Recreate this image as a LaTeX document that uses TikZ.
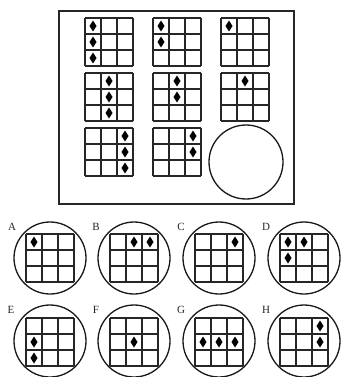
\documentclass[tikz,border=0pt]{standalone}
\usepackage{fontspec}
\setmainfont{Liberation Serif}
\tikzset{
  gridln/.style={line width=1.1pt, draw=black!85, line cap=square},
  frameln/.style={line width=1.5pt, draw=black!85},
  ringln/.style={line width=1.3pt, draw=black!90},
  optlabel/.style={font=\fontsize{11}{13}\selectfont, inner sep=0pt, text=black!85}
}
\newcommand\dgrid[3]{%
  \begin{scope}[shift={(#1,#2)}]
    \foreach \i in {0,16,32,48}{\draw[gridln] (\i,0) -- (\i,48); \draw[gridln] (0,\i) -- (48,\i);}
    \foreach \c/\r in {#3}{\fill[black] (\c*16+8,\r*16+2.5) -- (\c*16+11.5,\r*16+8) -- (\c*16+8,\r*16+13.5) -- (\c*16+4.5,\r*16+8) -- cycle;}
  \end{scope}}
\begin{document}
\begin{tikzpicture}[x=1pt,y=-1pt]
  \useasboundingbox (0,0) rectangle (340,377);
  \fill[white] (0,0) rectangle (340,377);
  % top panel
  \draw[frameln] (59,11) rectangle (294,204);
  \dgrid{85}{18}{0/0,0/1,0/2}
  \dgrid{153}{18}{0/0,0/1}
  \dgrid{221}{18}{0/0}
  \dgrid{85}{73}{1/0,1/1,1/2}
  \dgrid{153}{73}{1/0,1/1}
  \dgrid{221}{73}{1/0}
  \dgrid{85}{128}{2/0,2/1,2/2}
  \dgrid{153}{128}{2/0,2/1}
  \draw[ringln] (246,162) circle[radius=37];
  % options row 1
  \draw[ringln] (50,258) circle[radius=36];
  \draw[ringln] (134,258) circle[radius=36];
  \draw[ringln] (219,258) circle[radius=36];
  \draw[ringln] (304,258) circle[radius=36];
  \dgrid{26}{234}{0/0}
  \dgrid{110}{234}{1/0,2/0}
  \dgrid{195}{234}{2/0}
  \dgrid{280}{234}{0/0,1/0,0/1}
  \node[optlabel] (lA) at (12,227) {A};
  \node[optlabel] (lB) at (96,227) {B};
  \node[optlabel] (lC) at (181,227) {C};
  \node[optlabel] (lD) at (266,227) {D};
  % options row 2
  \draw[ringln] (50,341) circle[radius=36];
  \draw[ringln] (134,341) circle[radius=36];
  \draw[ringln] (219,341) circle[radius=36];
  \draw[ringln] (304,341) circle[radius=36];
  \dgrid{26}{318}{0/1,0/2}
  \dgrid{110}{318}{1/1}
  \dgrid{195}{318}{0/1,1/1,2/1}
  \dgrid{280}{318}{2/0,2/1}
  \node[optlabel] (lE) at (11,310) {E};
  \node[optlabel] (lF) at (96,310) {F};
  \node[optlabel] (lG) at (181,310) {G};
  \node[optlabel] (lH) at (266,310) {H};
\end{tikzpicture}
\end{document}
